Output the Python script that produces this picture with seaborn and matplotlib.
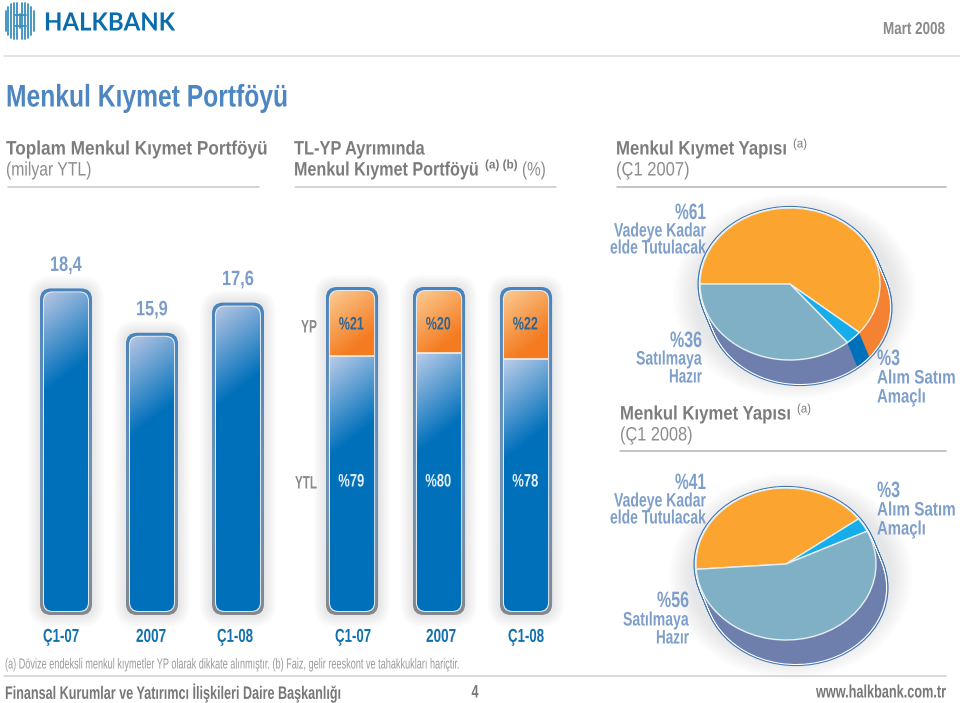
import numpy as np
import matplotlib
matplotlib.use("Agg")
import matplotlib.pyplot as plt
import seaborn as sns
from matplotlib.patches import FancyBboxPatch, Circle
from matplotlib.colors import to_rgb
from matplotlib.lines import Line2D
from matplotlib.patheffects import AbstractPathEffect
from matplotlib.transforms import Affine2D, Bbox

periods = ["Ç1-07", "2007", "Ç1-08"]
portfolio = [18.4, 15.9, 17.6]
portfolio_labels = ["18,4", "15,9", "17,6"]
share_yp = [21, 20, 22]
share_ytl = [79, 80, 78]
pie_labels = ["Vadeye Kadar elde Tutulacak", "Alım Satım Amaçlı", "Satılmaya Hazır"]
pie_2007 = [61, 3, 36]
pie_2008 = [41, 3, 56]

W, H = 960, 703
sns.set_theme(style="white")
plt.rcParams["font.family"] = ["Liberation Sans", "DejaVu Sans"]
fig = plt.figure(figsize=(W / 100, H / 100), dpi=100, facecolor="white")
renderer = fig.canvas.get_renderer()


class Squeeze(AbstractPathEffect):
    """Draw a text condensed horizontally about a fixed pixel position."""

    def __init__(self, sx, x0, dx=0):
        super().__init__()
        self.sx, self.x0, self.dx = sx, x0, dx

    def draw_path(self, renderer, gc, tpath, affine, rgbFace=None):
        tr = affine + Affine2D().translate(-self.x0, 0).scale(self.sx, 1).translate(self.x0 + self.dx, 0)
        renderer.draw_path(gc, tpath, tr, rgbFace)


def condense(t, width, x0, dx=0):
    full = t.get_window_extent(renderer)
    sx = width / full.width
    t.set_path_effects([Squeeze(sx, x0, dx)])
    orig = t.get_window_extent

    def extent(renderer=None, dpi=None):
        b = orig(renderer, dpi)
        return Bbox([[x0 + dx + (b.x0 - x0) * sx, b.y0], [x0 + dx + (b.x1 - x0) * sx, b.y1]])

    t.get_window_extent = extent
    return t


def px_axes(x0, y0, x1, y1):
    ax = fig.add_axes([x0 / W, 1 - y1 / H, (x1 - x0) / W, (y1 - y0) / H])
    ax.patch.set_alpha(0)
    return ax


def put(x, y, s, width, size=13, color="#777777", ha="left", weight="normal"):
    t = fig.text(x / W, 1 - y / H, s, fontsize=size, color=color, ha=ha, va="center_baseline",
                 fontweight=weight)
    return condense(t, width, x)


def rule(x0, x1, y, color="#c9c9c9", lw=1.1):
    fig.add_artist(Line2D([x0 / W, x1 / W], [1 - y / H, 1 - y / H], color=color, lw=lw))


def grad_image(h, w, c0, c1, span, slope=0.8):
    yy, xx = np.mgrid[0:h, 0:w]
    t = np.clip((yy + slope * xx) / span, 0, 1)[..., None]
    return (1 - t) * np.array(to_rgb(c0)) + t * np.array(to_rgb(c1))


def dress_bar(ax, bar, c0, c1, span, pxx, pxy, round_top=True, round_bottom=True):
    """Skin a seaborn bar: rounded gradient face taken from the bar's own geometry."""
    x, y, w, h = bar.get_x(), bar.get_y(), bar.get_width(), bar.get_height()
    r = 9 * pxx
    a = pxy / pxx
    y0 = y + (4 * pxy if round_bottom else 0)
    y1 = y + h - (4 * pxy if round_top else 0)
    x0, x1 = x + 4 * pxx, x + w - 4 * pxx
    clip_y0 = y0 if round_bottom else y0 - 30 * pxy
    clip_y1 = y1 if round_top else y1 + 30 * pxy
    clip = FancyBboxPatch((x0, clip_y0), x1 - x0, clip_y1 - clip_y0,
                          boxstyle=f"round,pad=0,rounding_size={r}", mutation_aspect=a,
                          fc="none", ec="none")
    ax.add_patch(clip)
    nh = int(round((y1 - y0) / pxy))
    nw = int(round((x1 - x0) / pxx))
    im = ax.imshow(grad_image(nh, nw, c0, c1, span), extent=(x0, x1, y0, y1),
                   origin="upper", aspect="auto", zorder=5, interpolation="bilinear")
    im.set_clip_path(clip)
    bar.set_visible(False)


def frame(ax, x, w, y0, y1, pxx, pxy):
    r = 11 * pxx
    a = pxy / pxx
    for k in range(12, 0, -2):
        ax.add_patch(FancyBboxPatch(
            (x - k * pxx, y0 - k * pxy), w + 2 * k * pxx, (y1 - y0) + 2 * k * pxy,
            boxstyle=f"round,pad=0,rounding_size={r + k * pxx}", mutation_aspect=a,
            fc="#9aa0a6", ec="none", alpha=0.04, zorder=1, clip_on=False))
    outer = FancyBboxPatch((x, y0), w, y1 - y0, boxstyle=f"round,pad=0,rounding_size={r}",
                           mutation_aspect=a, fc="none", ec="none")
    ax.add_patch(outer)
    g = np.linspace(0, 1, 200)[:, None, None]
    top, mid, bot = [np.array(to_rgb(c)) for c in ("#4b84bb", "#6f93b8", "#85888c")]
    col = np.where(g < 0.6, top + (mid - top) * g / 0.6, mid + (bot - mid) * (g - 0.6) / 0.4)
    im = ax.imshow(col, extent=(x, x + w, y0, y1), origin="upper", aspect="auto", zorder=2)
    im.set_clip_path(outer)
    ax.add_patch(FancyBboxPatch((x + 3 * pxx, y0 + 3 * pxy), w - 6 * pxx, (y1 - y0) - 6 * pxy,
                                boxstyle=f"round,pad=0,rounding_size={9.5 * pxx}",
                                mutation_aspect=a, fc="#dfeaf5", ec="none", zorder=3))


def style_axis(ax, xpx, centres):
    """Axis-level cleanup plus condensed tick labels (centres = target pixel centres)."""
    sns.despine(ax=ax, left=True, bottom=True)
    ax.set_xlabel("")
    ax.set_ylabel("")
    ax.set_yticks([])
    ax.tick_params(axis="x", length=0, pad=10)
    widths = [36, 30, 36]
    for t, px, c, w in zip(ax.get_xticklabels(), xpx, centres, widths):
        t.set_fontsize(13.5)
        t.set_fontweight("bold")
        t.set_color("#1270ad")
        condense(t, w, px, c - px)


# ---- total portfolio bars
BASE = 615
ax1 = px_axes(23, 190, 281, BASE)
sns.barplot(x=periods, y=portfolio, ax=ax1, color="#0070bb", width=0.605, saturation=1)
ymax1 = (BASE - 190) / 17.75
pxx1, pxy1 = 3 / 258, ymax1 / (BASE - 190)
for bar, lab in zip(list(ax1.patches), portfolio_labels):
    frame(ax1, bar.get_x(), bar.get_width(), 0, bar.get_height(), pxx1, pxy1)
    dress_bar(ax1, bar, "#b8c6e4", "#0070bb", 100, pxx1, pxy1)
    xc = bar.get_x() + bar.get_width() / 2
    ax1.set_xlim(-0.5, 2.5)
    ax1.set_ylim(0, ymax1)
    an = ax1.annotate(lab, (xc, bar.get_height()), xytext=(0, 23 * 0.72), textcoords="offset points",
                      ha="center", va="center", fontsize=15, color="#7c9dc9", fontweight="bold",
                      annotation_clip=False)
    condense(an, 32, ax1.transData.transform((xc, 0))[0])
ax1.set_xlim(-0.5, 2.5)
ax1.set_ylim(0, ymax1)
style_axis(ax1, [ax1.transData.transform((i, 0))[0] for i in range(3)], [61, 151, 235])

# ---- TL / FX split
ax2 = px_axes(308.5, 287, 569.5, BASE)
sns.barplot(x=periods, y=share_ytl, ax=ax2, color="#0070bb", width=0.6, saturation=1)
n_low = len(ax2.patches)
sns.barplot(x=periods, y=share_yp, bottom=share_ytl, ax=ax2, color="#f47b20", width=0.6, saturation=1)
pxx2, pxy2 = 3 / 261, 100 / (BASE - 287)
low, high = list(ax2.patches)[:n_low], list(ax2.patches)[n_low:]
for lo, hi, a, b in zip(low, high, share_ytl, share_yp):
    frame(ax2, lo.get_x(), lo.get_width(), 0, 100, pxx2, pxy2)
    dress_bar(ax2, lo, "#bccde9", "#0070bb", 100, pxx2, pxy2, round_top=False)
    dress_bar(ax2, hi, "#fbcb92", "#f47b20", 75, pxx2, pxy2, round_bottom=False)
    xc = lo.get_x() + lo.get_width() / 2
    ax2.hlines(a, lo.get_x() + 4 * pxx2, lo.get_x() + lo.get_width() - 4 * pxx2,
               color="#f6efe6", lw=1.2, zorder=6)
    ax2.set_xlim(-0.5, 2.5)
    ax2.set_ylim(0, 100)
    xpx = ax2.transData.transform((xc, 0))[0]
    up = ax2.annotate(f"%{b}", (xc, 100), xytext=(-1 * 0.72, -38 * 0.72), textcoords="offset points",
                      ha="center", va="center", fontsize=13, color="#2f6593", fontweight="bold", zorder=7)
    condense(up, 25, xpx)
    dn = ax2.annotate(f"%{a}", (xc, 0), xytext=(-1 * 0.72, 133 * 0.72), textcoords="offset points",
                      ha="center", va="center", fontsize=13, color="#e4edf6", fontweight="bold", zorder=7)
    condense(dn, 26, xpx)
ax2.set_xlim(-0.5, 2.5)
ax2.set_ylim(0, 100)
style_axis(ax2, [ax2.transData.transform((i, 0))[0] for i in range(3)], [353, 441, 526])
put(317, 326, "YP", 16, 13, "#8a8a8a", ha="right", weight="bold")
put(317, 482, "YTL", 22, 13, "#8a8a8a", ha="right", weight="bold")


# ---- pies
def pie3d(cx, cy, values, start, rx=90, ry=76, depth=24, shift=10):
    ax = px_axes(cx - 1.4 * rx, cy - 1.4 * ry, cx + 1.6 * rx, cy + 1.8 * ry)
    top = ["#fba42f", "#16aeea", "#7fb0c6"]
    side = ["#f58233", "#0070bb", "#6e7fae"]
    dx, dy = shift / rx, depth / ry
    for k in range(9, 0, -1):
        ax.add_patch(Circle((dx / 2, -dy / 2), 1.08 + 0.03 * k, fc="#a9adb3", ec="none", alpha=0.03))
    n = depth + 1
    for i in range(n - 1, -1, -1):
        f = i / (n - 1)
        ax.add_patch(Circle((f * dx, -f * dy), 1.028, fc="#3f78b2", ec="none"))
    for i in range(n - 1, -1, -1):
        f = i / (n - 1)
        ax.add_patch(Circle((f * dx, -f * dy), 1.014, fc="white", ec="none"))
    for i in range(n - 1, 0, -1):
        f = i / (n - 1)
        ax.pie(values, colors=side, startangle=start, counterclock=False, radius=1.0,
               center=(f * dx, -f * dy), wedgeprops={"linewidth": 0})
    ax.pie(values, colors=top, startangle=start, counterclock=False, radius=1.0,
           center=(0, 0), wedgeprops={"linewidth": 1, "edgecolor": "#e8eef2"})
    ax.set_aspect("auto")
    ax.set_xlim(-1.4, 1.6)
    ax.set_ylim(-1.8, 1.4)
    ax.set_axis_off()


pie3d(790, 284, pie_2007, 180)
pie3d(786, 564, pie_2008, 184)

LAB = "#7f9fcb"


def lab3(x, ys, lines, widths, ha):
    sizes = [16, 14, 14]
    for y, s, w, fs in zip(ys, lines, widths, sizes):
        put(x, y, s, w, fs, LAB, ha=ha, weight="bold")


lab3(706, (211, 230, 247), [f"%{pie_2007[0]}", "Vadeye Kadar", "elde Tutulacak"], (31, 92, 96), "right")
lab3(702, (339, 358, 376), [f"%{pie_2007[2]}", "Satılmaya", "Hazır"], (32, 66, 33), "right")
lab3(877, (357, 377, 396), [f"%{pie_2007[1]}", "Alım Satım", "Amaçlı"], (23, 79, 49), "left")
lab3(706, (481, 500, 517), [f"%{pie_2008[0]}", "Vadeye Kadar", "elde Tutulacak"], (31, 92, 96), "right")
lab3(689, (599, 619, 637), [f"%{pie_2008[2]}", "Satılmaya", "Hazır"], (32, 66, 33), "right")
lab3(877, (489, 509, 528), [f"%{pie_2008[1]}", "Alım Satım", "Amaçlı"], (23, 79, 49), "left")

# ---- headings
G1, G2 = "#7c7c7c", "#8c8c8c"
put(6, 95, "Menkul Kıymet Portföyü", 282, 22.5, "#4d86c1", weight="bold")
put(6, 148, "Toplam Menkul Kıymet Portföyü", 262, 14, G1, weight="bold")
put(6, 169, "(milyar YTL)", 86, 14, G2)
put(294, 148, "TL-YP Ayrımında", 131, 14, G1, weight="bold")
put(294, 169, "Menkul Kıymet Portföyü", 185, 14, G1, weight="bold")
put(485, 164, "(a) (b)", 33, 9, G1, weight="bold")
put(522, 169, "(%)", 24, 14, G2)
put(616, 148, "Menkul Kıymet Yapısı", 171, 14, G1, weight="bold")
put(793, 143, "(a)", 14, 9, G1)
put(616, 169, "(Ç1 2007)", 74, 14, G2)
put(620, 413, "Menkul Kıymet Yapısı", 171, 14, G1, weight="bold")
put(797, 408, "(a)", 14, 9, G1)
put(620, 434, "(Ç1 2008)", 73, 14, G2)
rule(8, 259, 187)
rule(295, 556, 187)
rule(617, 946, 187, "#b5b5b5")
rule(620, 946, 451, "#b5b5b5")
rule(4, 960, 56, "#dcdcdc")
rule(4, 946, 676, "#cfcfcf")
put(945, 28, "Mart 2008", 62, 12.5, "#8a8a8a", ha="right", weight="bold")

# ---- logo
logo = fig.text(44 / W, 1 - 21 / H, "HALKBANK", fontsize=18, color="#0a6cab", ha="left",
                va="center_baseline", family=["Lato"], fontweight="bold")
condense(logo, 131, 44)
stripe_x = np.arange(5.5, 35, 2.8)
stripe_h = [10, 14, 17, 18, 18, 7, 18, 18, 17, 14, 10]
for xs, hs in zip(stripe_x, stripe_h):
    fig.add_artist(Line2D([xs / W] * 2, [1 - (20.5 - hs) / H, 1 - (20.5 + hs) / H],
                          color="#3a8fbe", lw=1.3))
for ys in (15, 26):
    fig.add_artist(Line2D([15 / W, 26 / W], [1 - ys / H] * 2, color="#3a8fbe", lw=1.3))

# ---- footer
put(5, 663, "(a) Dövize endeksli menkul kıymetler YP olarak dikkate alınmıştır. (b) Faiz, gelir reeskont ve tahakkukları hariçtir.",
    459, 10.5, "#9a9a9a")
put(5, 691, "Finansal Kurumlar ve Yatırımcı İlişkileri Daire Başkanlığı", 335, 13, "#777777", weight="bold")
put(475, 691, "4", 7, 13, "#777777", ha="center", weight="bold")
put(946, 691, "www.halkbank.com.tr", 130, 13, "#777777", ha="right", weight="bold")

fig.savefig("out.png", dpi=100, facecolor="white")
